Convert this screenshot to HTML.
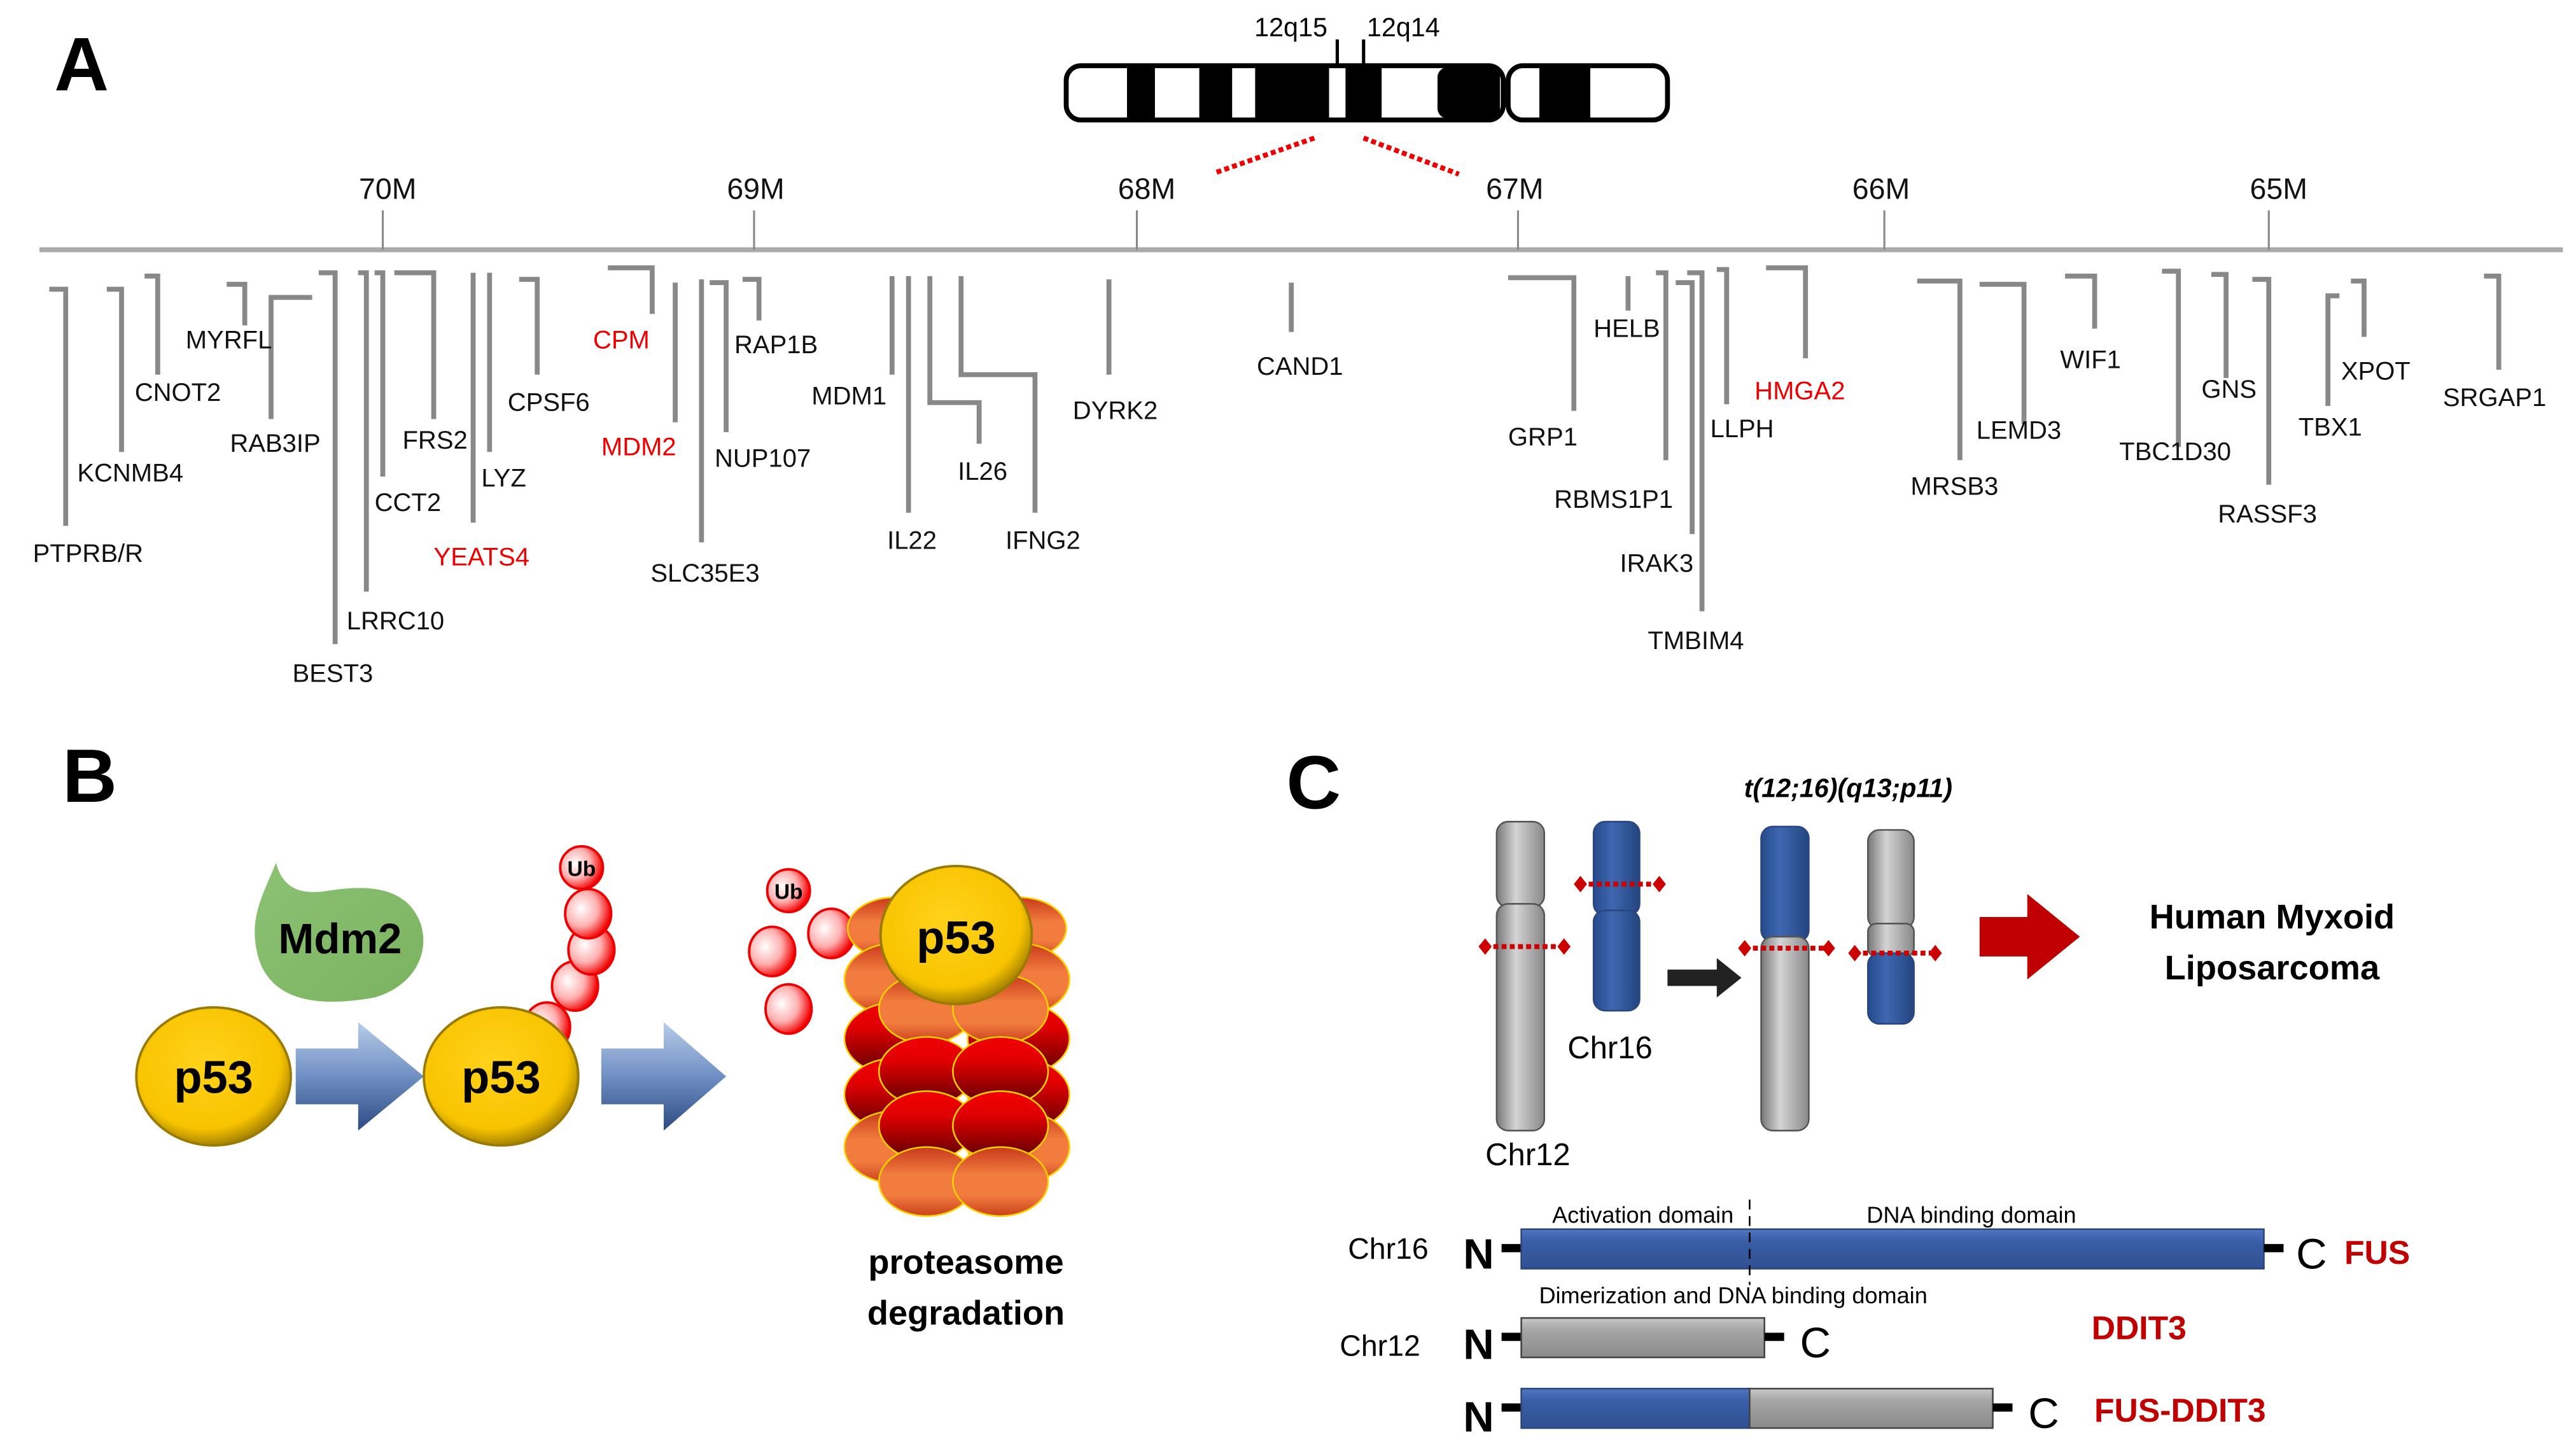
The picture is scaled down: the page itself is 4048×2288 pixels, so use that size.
<!DOCTYPE html>
<html><head><meta charset="utf-8"><style>html,body{margin:0;padding:0;background:#fff}svg{display:block}</style></head>
<body>
<svg xmlns="http://www.w3.org/2000/svg" width="4048" height="2288" viewBox="0 0 1568 886" preserveAspectRatio="none" font-family="'Liberation Sans', sans-serif">
<defs>
<radialGradient id="gold" cx="0.45" cy="0.4" r="0.6"><stop offset="0" stop-color="#ffd21a"/><stop offset="0.8" stop-color="#f8c400"/><stop offset="1" stop-color="#a88400"/></radialGradient>
<radialGradient id="ub" cx="0.35" cy="0.4" r="0.65"><stop offset="0" stop-color="#fff"/><stop offset="0.55" stop-color="#ffb0b0"/><stop offset="1" stop-color="#f00000"/></radialGradient>
<linearGradient id="blueArr" x1="0" y1="0" x2="0" y2="1"><stop offset="0" stop-color="#b8cde8"/><stop offset="0.5" stop-color="#6f8fc4"/><stop offset="1" stop-color="#2c4a80"/></linearGradient>
<linearGradient id="orng" x1="0" y1="0" x2="0" y2="1"><stop offset="0" stop-color="#c83a1c"/><stop offset="0.4" stop-color="#f27c3e"/><stop offset="0.7" stop-color="#f27c3e"/><stop offset="1" stop-color="#c8401c"/></linearGradient>
<linearGradient id="redd" x1="0" y1="0" x2="0" y2="1"><stop offset="0" stop-color="#f20000"/><stop offset="0.35" stop-color="#e00000"/><stop offset="1" stop-color="#5a0000"/></linearGradient>
<linearGradient id="grayC" x1="0" y1="0" x2="1" y2="0"><stop offset="0" stop-color="#777"/><stop offset="0.4" stop-color="#d4d4d4"/><stop offset="1" stop-color="#888"/></linearGradient>
<linearGradient id="blueC" x1="0" y1="0" x2="1" y2="0"><stop offset="0" stop-color="#264a8c"/><stop offset="0.4" stop-color="#3f67b0"/><stop offset="1" stop-color="#23457f"/></linearGradient>
<linearGradient id="barB" x1="0" y1="0" x2="0" y2="1"><stop offset="0" stop-color="#5277c0"/><stop offset="0.3" stop-color="#3a5fa8"/><stop offset="1" stop-color="#2f4f90"/></linearGradient>
<linearGradient id="barG" x1="0" y1="0" x2="0" y2="1"><stop offset="0" stop-color="#c8c8c8"/><stop offset="0.3" stop-color="#a6a6a6"/><stop offset="1" stop-color="#8a8a8a"/></linearGradient>
<linearGradient id="grn" x1="0" y1="0" x2="1" y2="1"><stop offset="0" stop-color="#8cc274"/><stop offset="1" stop-color="#7ab35f"/></linearGradient>
</defs>

<text x="33" y="55" font-size="46" font-weight="bold">A</text>
<text x="38" y="488" font-size="46" font-weight="bold">B</text>
<text x="783" y="492" font-size="46" font-weight="bold">C</text>

<g>
<rect x="649" y="40" width="266" height="33" rx="9" fill="#fff" stroke="#000" stroke-width="3"/>
<rect x="686" y="41" width="17" height="31" fill="#000"/>
<rect x="730" y="41" width="20" height="31" fill="#000"/>
<rect x="764" y="41" width="45" height="31" fill="#000"/>
<rect x="819" y="41" width="22" height="31" fill="#000"/>
<rect x="875" y="41" width="38" height="31" fill="#000" rx="6"/>
<rect x="918" y="40" width="97" height="33" rx="9" fill="#fff" stroke="#000" stroke-width="3"/>
<rect x="937" y="41" width="31" height="31" fill="#000"/>
<line x1="814" y1="24" x2="814" y2="40" stroke="#000" stroke-width="2"/>
<line x1="830" y1="24" x2="830" y2="40" stroke="#000" stroke-width="2"/>
<text x="808" y="22" font-size="16" text-anchor="end">12q15</text>
<text x="832" y="22" font-size="16">12q14</text>
<line x1="800" y1="84" x2="740" y2="105" stroke="#e00" stroke-width="3" stroke-dasharray="3,2"/>
<line x1="830" y1="84" x2="888" y2="106" stroke="#e00" stroke-width="3" stroke-dasharray="3,2"/>
</g>

<line x1="24" y1="152" x2="1560" y2="152" stroke="#aaa" stroke-width="3"/>
<g stroke="#888" stroke-width="1.2">
<line x1="233" y1="128" x2="233" y2="152"/><line x1="459" y1="128" x2="459" y2="152"/><line x1="692" y1="128" x2="692" y2="152"/><line x1="924" y1="128" x2="924" y2="152"/><line x1="1147" y1="128" x2="1147" y2="152"/><line x1="1381" y1="128" x2="1381" y2="152"/>
</g>
<g font-size="18" text-anchor="middle" fill="#111">
<text x="236" y="121">70M</text><text x="460" y="121">69M</text><text x="698" y="121">68M</text><text x="922" y="121">67M</text><text x="1145" y="121">66M</text><text x="1387" y="121">65M</text>
</g>

<g stroke="#888" stroke-width="3" fill="none">
<path d="M30 176H40V320"/>
<path d="M65 176H74V275"/>
<path d="M88 168H96V228"/>
<path d="M138 173H149V198"/>
<path d="M190 181H165V255"/>
<path d="M194 166H204V392"/>
<path d="M218 166H223V360"/>
<path d="M228 166H233V290"/>
<path d="M240 166H264V255"/>
<path d="M288 166V318"/>
<path d="M298 166V275"/>
<path d="M316 170H327V228"/>
<path d="M370 163H397V191"/>
<path d="M411 172V257"/>
<path d="M427 170V330"/>
<path d="M432 172H442V263"/>
<path d="M452 170H462V195"/>
<path d="M543 168V228"/>
<path d="M553 168V312"/>
<path d="M566 168V245H596V270"/>
<path d="M585 168V228H630V312"/>
<path d="M675 170V228"/>
<path d="M786 172V202"/>
<path d="M918 169H958V250"/>
<path d="M991 168V189"/>
<path d="M1008 166H1014V280"/>
<path d="M1020 172H1030V325"/>
<path d="M1027 166H1036V372"/>
<path d="M1045 164H1051V246"/>
<path d="M1075 163H1099V218"/>
<path d="M1167 171H1193V280"/>
<path d="M1205 173H1232V258"/>
<path d="M1257 168H1275V200"/>
<path d="M1316 165H1326V272"/>
<path d="M1346 167H1355V230"/>
<path d="M1371 170H1381V295"/>
<path d="M1424 180H1417V247"/>
<path d="M1431 171H1439V205"/>
<path d="M1512 168H1521V225"/>
</g>
<g font-size="15.5" fill="#111">
<text x="20" y="342">PTPRB/R</text>
<text x="47" y="293">KCNMB4</text>
<text x="82" y="244">CNOT2</text>
<text x="113" y="212">MYRFL</text>
<text x="140" y="275">RAB3IP</text>
<text x="178" y="415">BEST3</text>
<text x="211" y="383">LRRC10</text>
<text x="228" y="311">CCT2</text>
<text x="245" y="273">FRS2</text>
<text x="264" y="344" fill="#e00">YEATS4</text>
<text x="293" y="296">LYZ</text>
<text x="309" y="250">CPSF6</text>
<text x="361" y="212" fill="#e00">CPM</text>
<text x="366" y="277" fill="#e00">MDM2</text>
<text x="396" y="354">SLC35E3</text>
<text x="435" y="284">NUP107</text>
<text x="447" y="215">RAP1B</text>
<text x="494" y="246">MDM1</text>
<text x="540" y="334">IL22</text>
<text x="583" y="292">IL26</text>
<text x="612" y="334">IFNG2</text>
<text x="653" y="255">DYRK2</text>
<text x="765" y="228">CAND1</text>
<text x="918" y="271">GRP1</text>
<text x="970" y="205">HELB</text>
<text x="946" y="309">RBMS1P1</text>
<text x="986" y="348">IRAK3</text>
<text x="1003" y="395">TMBIM4</text>
<text x="1041" y="266">LLPH</text>
<text x="1068" y="243" fill="#e00">HMGA2</text>
<text x="1163" y="301">MRSB3</text>
<text x="1203" y="267">LEMD3</text>
<text x="1254" y="224">WIF1</text>
<text x="1290" y="280">TBC1D30</text>
<text x="1340" y="242">GNS</text>
<text x="1350" y="318">RASSF3</text>
<text x="1399" y="265">TBX1</text>
<text x="1425" y="231">XPOT</text>
<text x="1487" y="247">SRGAP1</text>
</g>

<!-- Panel B -->
<path d="M168 525 C160 545 150 560 158 585 C168 612 200 612 228 607 C252 600 262 580 256 562 C248 540 225 538 200 542 C182 545 172 540 168 525Z" fill="url(#grn)"/>
<text x="207" y="580" font-size="26" font-weight="bold" text-anchor="middle">Mdm2</text>

<path d="M180 638H218V622L258 655L218 688V672H180Z" fill="url(#blueArr)"/>
<path d="M366 638H404V622L442 655L404 688V672H366Z" fill="url(#blueArr)"/>

<g stroke="#e00" stroke-width="1.5" fill="url(#ub)">
<ellipse cx="333" cy="625" rx="14" ry="15"/>
<ellipse cx="350" cy="600" rx="14" ry="15"/>
<ellipse cx="360" cy="578" rx="14" ry="15"/>
<ellipse cx="358" cy="556" rx="14" ry="15"/>
<ellipse cx="354" cy="528" rx="13" ry="13"/>
<ellipse cx="480" cy="542" rx="13" ry="13"/>
<ellipse cx="506" cy="568" rx="14" ry="15"/>
<ellipse cx="470" cy="579" rx="14" ry="15"/>
<ellipse cx="480" cy="614" rx="14" ry="15"/>
</g>
<text x="354" y="533" font-size="13" font-weight="bold" text-anchor="middle">Ub</text>
<text x="480" y="547" font-size="13" font-weight="bold" text-anchor="middle">Ub</text>

<ellipse cx="130" cy="655" rx="47" ry="42" fill="url(#gold)" stroke="#9a7a00" stroke-width="1.5"/>
<ellipse cx="305" cy="655" rx="47" ry="42" fill="url(#gold)" stroke="#9a7a00" stroke-width="1.5"/>
<text x="130" y="665" font-size="28" font-weight="bold" text-anchor="middle">p53</text>
<text x="305" y="665" font-size="28" font-weight="bold" text-anchor="middle">p53</text>

<g stroke="#ffd000" stroke-width="1">
<ellipse cx="545" cy="565" rx="29" ry="19" fill="url(#orng)"/><ellipse cx="620" cy="565" rx="29" ry="19" fill="url(#orng)"/>
<ellipse cx="545" cy="596" rx="31" ry="22" fill="url(#orng)"/><ellipse cx="620" cy="596" rx="31" ry="22" fill="url(#orng)"/>
<ellipse cx="545" cy="632" rx="31" ry="22" fill="url(#redd)"/><ellipse cx="620" cy="632" rx="31" ry="22" fill="url(#redd)"/>
<ellipse cx="545" cy="666" rx="31" ry="22" fill="url(#redd)"/><ellipse cx="620" cy="666" rx="31" ry="22" fill="url(#redd)"/>
<ellipse cx="545" cy="698" rx="31" ry="22" fill="url(#orng)"/><ellipse cx="620" cy="698" rx="31" ry="22" fill="url(#orng)"/>
<ellipse cx="564" cy="614" rx="29" ry="21" fill="url(#orng)"/><ellipse cx="609" cy="614" rx="29" ry="21" fill="url(#orng)"/>
<ellipse cx="564" cy="652" rx="29" ry="21" fill="url(#redd)"/><ellipse cx="609" cy="652" rx="29" ry="21" fill="url(#redd)"/>
<ellipse cx="564" cy="685" rx="29" ry="21" fill="url(#redd)"/><ellipse cx="609" cy="685" rx="29" ry="21" fill="url(#redd)"/>
<ellipse cx="564" cy="719" rx="29" ry="21" fill="url(#orng)"/><ellipse cx="609" cy="719" rx="29" ry="21" fill="url(#orng)"/>
</g>
<ellipse cx="582" cy="569" rx="46" ry="42" fill="url(#gold)" stroke="#9a7a00" stroke-width="1.5"/>
<text x="582" y="580" font-size="28" font-weight="bold" text-anchor="middle">p53</text>
<text x="588" y="775" font-size="21" font-weight="bold" text-anchor="middle">proteasome</text>
<text x="588" y="806" font-size="21" font-weight="bold" text-anchor="middle">degradation</text>

<!-- Panel C -->
<text x="1125" y="485" font-size="16" font-weight="bold" font-style="italic" text-anchor="middle">t(12;16)(q13;p11)</text>
<rect x="911" y="500" width="29" height="52" rx="7" fill="url(#grayC)" stroke="#555"/>
<rect x="911" y="550" width="29" height="138" rx="7" fill="url(#grayC)" stroke="#555"/>
<rect x="970" y="500" width="28" height="57" rx="7" fill="url(#blueC)" stroke="#2a4680"/>
<rect x="970" y="554" width="28" height="61" rx="7" fill="url(#blueC)" stroke="#2a4680"/>
<rect x="1072" y="503" width="29" height="70" rx="7" fill="url(#blueC)" stroke="#2a4680"/>
<rect x="1072" y="570" width="29" height="118" rx="7" fill="url(#grayC)" stroke="#555"/>
<rect x="1137" y="505" width="28" height="60" rx="7" fill="url(#grayC)" stroke="#555"/>
<rect x="1137" y="562" width="28" height="20" rx="5" fill="url(#grayC)" stroke="#555"/>
<rect x="1137" y="580" width="28" height="43" rx="7" fill="url(#blueC)" stroke="#2a4680"/>
<g stroke="#c00" stroke-width="3" stroke-dasharray="3,2">
<line x1="904" y1="576" x2="952" y2="576"/>
<line x1="962" y1="538" x2="1010" y2="538"/>
<line x1="1062" y1="577" x2="1113" y2="577"/>
<line x1="1129" y1="580" x2="1177" y2="580"/>
</g>
<g fill="#c00">
<path d="M900 576l4-5 4 5-4 5z"/><path d="M948 576l4-5 4 5-4 5z"/>
<path d="M958 538l4-5 4 5-4 5z"/><path d="M1006 538l4-5 4 5-4 5z"/>
<path d="M1058 577l4-5 4 5-4 5z"/><path d="M1109 577l4-5 4 5-4 5z"/>
<path d="M1125 580l4-5 4 5-4 5z"/><path d="M1174 580l4-5 4 5-4 5z"/>
</g>
<path d="M1015 590H1045V583L1060 595L1045 607V600H1015Z" fill="#222"/>
<text x="980" y="644" font-size="19" text-anchor="middle">Chr16</text>
<text x="930" y="709" font-size="19" text-anchor="middle">Chr12</text>
<path d="M1205 558H1234V544L1266 570L1234 596V582H1205Z" fill="#c00000"/>
<text x="1383" y="565" font-size="21" font-weight="bold" text-anchor="middle">Human Myxoid</text>
<text x="1383" y="596" font-size="21" font-weight="bold" text-anchor="middle">Liposarcoma</text>

<text x="1000" y="744" font-size="14" text-anchor="middle">Activation domain</text>
<text x="1200" y="744" font-size="14" text-anchor="middle">DNA binding domain</text>
<text x="1055" y="793" font-size="14" text-anchor="middle">Dimerization and DNA binding domain</text>
<text x="845" y="766" font-size="18" text-anchor="middle">Chr16</text>
<text x="840" y="825" font-size="18" text-anchor="middle">Chr12</text>

<rect x="914" y="757" width="12" height="5" fill="#000"/>
<rect x="926" y="748" width="452" height="24" fill="url(#barB)" stroke="#2a4680"/>
<rect x="1378" y="757" width="12" height="5" fill="#000"/>
<line x1="1065" y1="730" x2="1065" y2="782" stroke="#000" stroke-width="1" stroke-dasharray="6,4"/>
<text x="900" y="772" font-size="26" font-weight="bold" text-anchor="middle">N</text>
<text x="1407" y="772" font-size="26" text-anchor="middle">C</text>
<text x="1427" y="769" font-size="20" font-weight="bold" fill="#c00000">FUS</text>

<rect x="914" y="811" width="12" height="5" fill="#000"/>
<rect x="926" y="802" width="148" height="24" fill="url(#barG)" stroke="#444"/>
<rect x="1074" y="811" width="12" height="5" fill="#000"/>
<text x="900" y="827" font-size="26" font-weight="bold" text-anchor="middle">N</text>
<text x="1105" y="826" font-size="26" text-anchor="middle">C</text>
<text x="1302" y="815" font-size="20" font-weight="bold" fill="#c00000" text-anchor="middle">DDIT3</text>

<rect x="914" y="854" width="12" height="5" fill="#000"/>
<rect x="926" y="845" width="139" height="24" fill="url(#barB)" stroke="#2a4680"/>
<rect x="1065" y="845" width="148" height="24" fill="url(#barG)" stroke="#444"/>
<rect x="1213" y="854" width="12" height="5" fill="#000"/>
<text x="900" y="871" font-size="26" font-weight="bold" text-anchor="middle">N</text>
<text x="1244" y="869" font-size="26" text-anchor="middle">C</text>
<text x="1327" y="865" font-size="20" font-weight="bold" fill="#c00000" text-anchor="middle">FUS-DDIT3</text>
</svg>
</body></html>
